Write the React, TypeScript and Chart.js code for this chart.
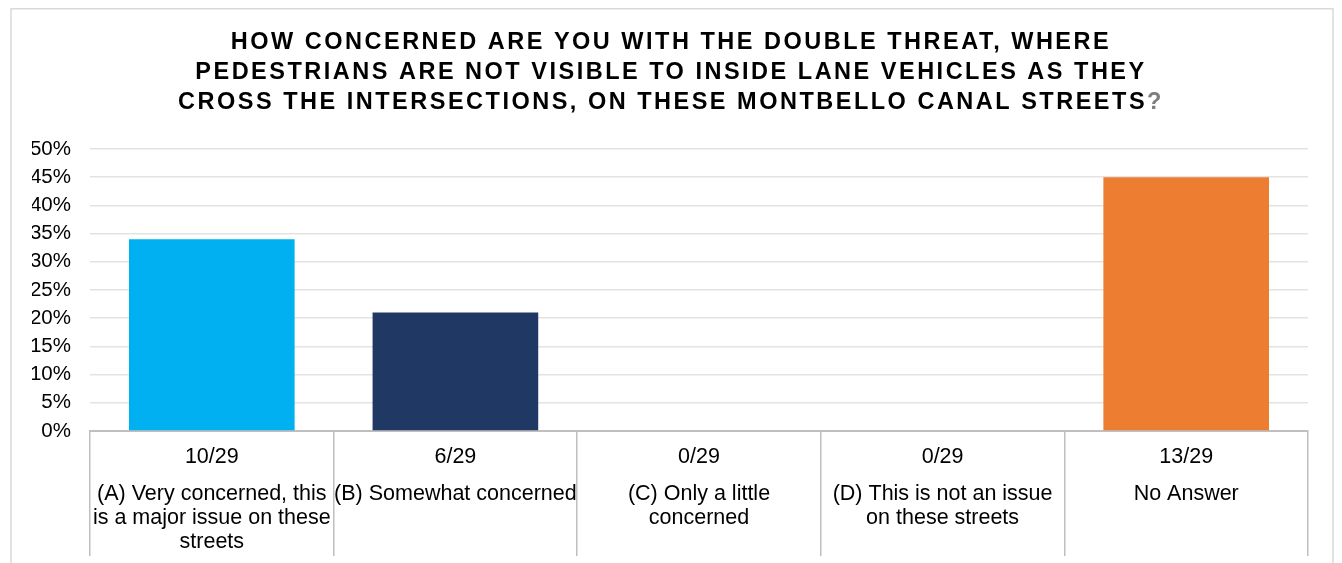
import React, { useEffect, useRef } from "react";
import { Chart, registerables } from "chart.js";

Chart.register(...registerables);

const titleLines = [
  "HOW CONCERNED ARE YOU WITH THE DOUBLE THREAT, WHERE",
  "PEDESTRIANS ARE NOT VISIBLE TO INSIDE LANE VEHICLES AS THEY",
  "CROSS THE INTERSECTIONS, ON THESE MONTBELLO CANAL STREETS",
];
const titleTail = "?";

const categories = ["A", "B", "C", "D", "NA"];
const counts = ["10/29", "6/29", "0/29", "0/29", "13/29"];
const categoryLabels = [
  ["(A) Very concerned, this", "is a major issue on these", "streets"],
  ["(B) Somewhat concerned"],
  ["(C) Only a little", "concerned"],
  ["(D) This is not an issue", "on these streets"],
  ["No Answer"],
];
const percentValues = [34, 21, 0, 0, 45];
const barColors = ["#00B0F0", "#203864", "#A5A5A5", "#FFC000", "#ED7D31"];
const yTicks = [0, 5, 10, 15, 20, 25, 30, 35, 40, 45, 50];

const FONT = "'Liberation Sans', Arial, sans-serif";

export default function App() {
  const ref = useRef<HTMLCanvasElement | null>(null);

  useEffect(() => {
    if (!ref.current) return;

    const overlay = {
      id: "overlay",
      afterDraw(chart: any) {
        const ctx = chart.ctx as CanvasRenderingContext2D;
        const w = chart.width;
        const h = chart.height;
        ctx.save();
        // outer frame
        ctx.strokeStyle = "#d9d9d9";
        ctx.lineWidth = 1.5;
        ctx.beginPath();
        ctx.moveTo(3, h);
        ctx.lineTo(3, 0.75);
        ctx.lineTo(w - 1, 0.75);
        ctx.lineTo(w - 1, h);
        ctx.stroke();

        // title
        ctx.font = `bold 23.5px ${FONT}`;
        (ctx as any).letterSpacing = "2.5px";
        ctx.textBaseline = "middle";
        ctx.textAlign = "left";
        const cx = 663;
        titleLines.forEach((line, i) => {
          const y = 35 + i * 30;
          const isLast = i === titleLines.length - 1;
          const full = isLast ? line + titleTail : line;
          const tw = ctx.measureText(full).width;
          const x0 = cx - tw / 2;
          ctx.fillStyle = "#000000";
          ctx.fillText(line, x0, y);
          if (isLast) {
            const lw = ctx.measureText(line).width;
            ctx.fillStyle = "#7f7f7f";
            ctx.fillText(titleTail, x0 + lw, y);
          }
        });
        (ctx as any).letterSpacing = "0px";

        // x labels (table-like axis)
        const xs = chart.scales.x;
        ctx.font = `21.5px ${FONT}`;
        ctx.fillStyle = "#000000";
        ctx.textAlign = "center";
        ctx.textBaseline = "middle";
        categories.forEach((_, i) => {
          const x = xs.getPixelForValue(i);
          ctx.fillText(counts[i], x, xs.top + 26);
          categoryLabels[i].forEach((l, j) => {
            ctx.fillText(l, x, xs.top + 63 + j * 24);
          });
        });
        ctx.restore();
      },
    };

    const chart = new Chart(ref.current, {
      type: "bar",
      data: {
        labels: categories,
        datasets: [
          {
            data: percentValues,
            backgroundColor: barColors,
            categoryPercentage: 0.68,
            barPercentage: 1,
          },
        ],
      },
      options: {
        animation: false,
        responsive: true,
        maintainAspectRatio: false,
        layout: { padding: { left: 24, right: 26, top: 141, bottom: 7 } },
        plugins: {
          legend: { display: false },
          title: { display: false },
          tooltip: { enabled: false },
        },
        scales: {
          x: {
            offset: true,
            grid: {
              offset: true,
              drawOnChartArea: false,
              drawTicks: true,
              tickLength: 125,
              color: "#bfbfbf",
              lineWidth: 1.5,
            },
            border: { display: true, color: "#bfbfbf", width: 2 },
            ticks: { display: false },
          },
          y: {
            min: 0,
            max: 50,
            afterBuildTicks(scale: any) {
              scale.ticks = yTicks.map((v) => ({ value: v }));
            },
            afterFit(scale: any) {
              scale.width = 58;
            },
            grid: { color: "#e3e3e3", lineWidth: 1.5, drawTicks: false },
            border: { display: false },
            ticks: {
              padding: 19,
              color: "#000000",
              font: { family: FONT, size: 20.5 },
              callback: (v: any) => `${v}%`,
            },
          },
        },
      },
      plugins: [overlay],
    });

    return () => chart.destroy();
  }, []);

  return (
    <div style={{ width: 1326, height: 555, position: "relative" }}>
      <canvas ref={ref} />
    </div>
  );
}
